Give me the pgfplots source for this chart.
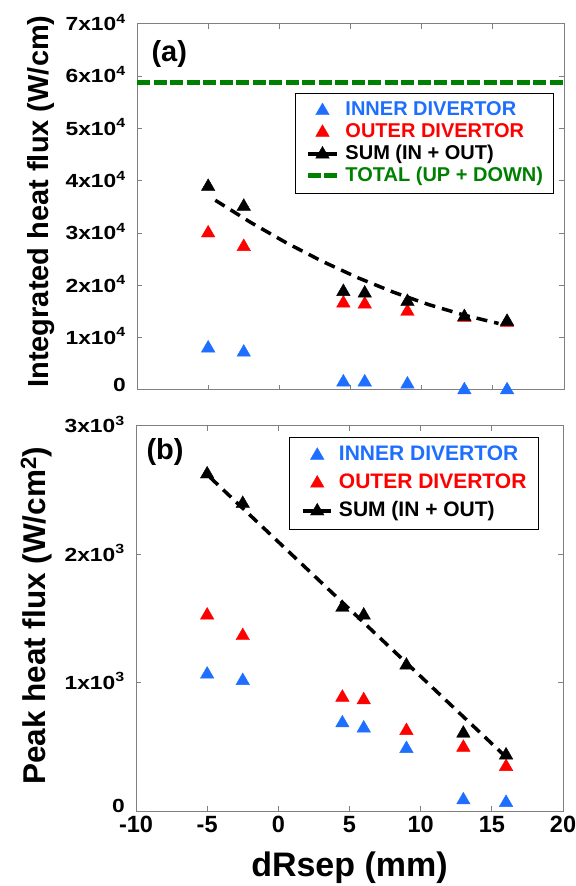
\documentclass[border=0pt]{standalone}
\usepackage{pgfplots}
\pgfplotsset{compat=1.18}
\usepackage{graphicx}
\usepackage{fontspec}
\setmainfont{Liberation Sans}
\definecolor{myblue}{RGB}{30,110,255}
\definecolor{mygreen}{RGB}{0,128,0}
\definecolor{axgray}{RGB}{128,128,128}
\newcommand\fs[1]{\fontsize{#1}{#1}\selectfont}
\newcommand\yl[1]{\scalebox{1.2}[1]{#1}}
\newcommand\yz{\raisebox{5bp}{\yl{0}}}
\pgfplotsset{
  common/.style={
    scale only axis, width=427bp, clip=false,
    xmin=-10, xmax=20, xtick={-10,-5,0,5,10,15,20},
    scaled y ticks=false,
    axis line style={axgray, line width=1bp},
    tick style={axgray, line width=1bp},
    major tick length=5bp, tick align=inside, tick pos=both,
    yticklabel style={anchor=base east, inner sep=0pt, xshift=-11bp, yshift=-6.7bp, font=\bfseries\fs{19bp}},
    ylabel style={anchor=base},
    legend cell align=left,
  },
  triB/.style={only marks, mark=triangle*, mark size=7.8bp, color=myblue, mark options={line width=0.4bp}},
  triR/.style={only marks, mark=triangle*, mark size=7.8bp, color=red, mark options={line width=0.4bp}},
  triK/.style={only marks, mark=triangle*, mark size=7.8bp, color=black, mark options={line width=0.4bp}},
  fitline/.style={black, line width=3.5bp, dash pattern=on 11bp off 7bp},
  sumleg/.style={black, line width=3.5bp, dash pattern=on 11bp off 7bp, mark=triangle*, mark size=7.8bp, mark options={solid, line width=0.4bp}},
}
\begin{document}
\begin{tikzpicture}
\path[use as bounding box] (0bp,0bp) rectangle (576bp,886bp);

% ---------------- (a) ----------------
\begin{axis}[common, at={(137bp,496bp)}, anchor=south west, height=366bp,
  ymin=0, ymax=70000, ytick={0,10000,20000,30000,40000,50000,60000,70000},
  yticklabels={\yz,\yl{1x10\textsuperscript{4}},\yl{2x10\textsuperscript{4}},\yl{3x10\textsuperscript{4}},\yl{4x10\textsuperscript{4}},\yl{5x10\textsuperscript{4}},\yl{6x10\textsuperscript{4}},\yl{7x10\textsuperscript{4}}},
  xticklabels={},
  ylabel={Integrated heat flux (W/cm)},
  ylabel style={at={(axis description cs:-0.2077,0.515)}, font=\bfseries\fs{29bp}},
  legend style={at={(0.370,0.8115)}, anchor=north west, fill=none, draw=black, line width=1bp,
    inner xsep=10bp, inner ysep=8bp, row sep=3bp, column sep=6bp,
    font=\bfseries\fs{20bp}, nodes={inner sep=0bp, text height=14.5bp, text depth=4.2bp}},
  legend image code/.code={\path (0bp,0bp) (29bp,0bp); \draw[mark repeat=2,mark phase=2,#1] plot coordinates {(0bp,0bp) (14.5bp,0bp) (29bp,0bp)};},
]
\addplot[triB] coordinates {(-5,8000) (-2.5,7200) (4.5,1500) (6,1500) (9,1100) (13,0) (16,0)};
\addlegendentry{\textcolor{myblue}{INNER DIVERTOR}}
\addplot[triR] coordinates {(-5,30000) (-2.5,27400) (4.5,16600) (6,16400) (9,15000) (13,13800) (16,12900)};
\addlegendentry{\textcolor{red}{OUTER DIVERTOR}}
\addplot[fitline, forget plot] coordinates {(-4.5,36289) (-2,32029) (0.5,28142) (3,24630) (5.5,21489) (8,18723) (10.5,16329) (13,14309) (15.4,12721)};
\addplot[triK, forget plot] coordinates {(-5,38900) (-2.5,35100) (4.5,18800) (6,18500) (9,16900) (13,14000) (16,13100)};
\addlegendimage{sumleg}
\addlegendentry{SUM (IN + OUT)}
\addplot[mygreen, line width=5bp, dash pattern=on 13bp off 3.5bp] coordinates {(-10,58900) (20,58900)};
\addlegendentry{\textcolor{mygreen}{TOTAL (UP + DOWN)}}
\node[anchor=base west, font=\bfseries\fs{29bp}, xshift=11bp, yshift=-37.5bp] at (axis description cs:0,1) {(a)};
\end{axis}

% ---------------- (b) ----------------
\begin{axis}[common, at={(136bp,75bp)}, anchor=south west, height=385bp,
  ymin=0, ymax=3000, ytick={0,1000,2000,3000},
  yticklabels={\yz,\yl{1x10\textsuperscript{3}},\yl{2x10\textsuperscript{3}},\yl{3x10\textsuperscript{3}}},
  xticklabels={-10,-5,0,5,10,15,20},
  xticklabel style={anchor=base, inner sep=0pt, yshift=-21.5bp, font=\bfseries\fs{23.5bp}},
  xlabel={dRsep (mm)},
  xlabel style={at={(axis description cs:0.5,0)}, anchor=base, yshift=-65bp, font=\bfseries\fs{34bp}},
  ylabel={Peak heat flux (W/cm\textsuperscript{2})},
  ylabel style={at={(axis description cs:-0.213,0.507)}, font=\bfseries\fs{31.5bp}},
  legend style={at={(0.3583,0.9714)}, anchor=north west, fill=none, draw=black, line width=1bp,
    inner xsep=12bp, inner ysep=8.2bp, row sep=8.2bp, column sep=6bp,
    font=\bfseries\fs{21bp}, nodes={inner sep=0bp, text height=15.2bp, text depth=4.4bp}},
  legend image code/.code={\path (0bp,0bp) (28bp,0bp); \draw[mark repeat=2,mark phase=2,#1] plot coordinates {(0bp,0bp) (14bp,0bp) (28bp,0bp)};},
]
\addplot[triB] coordinates {(-5,1065) (-2.5,1015) (4.5,685) (6,645) (9,485) (13,85) (16,65)};
\addlegendentry{\textcolor{myblue}{INNER DIVERTOR}}
\addplot[triR] coordinates {(-5,1525) (-2.5,1365) (4.5,885) (6,865) (9,625) (13,495) (16,345)};
\addlegendentry{\textcolor{red}{OUTER DIVERTOR}}
\addplot[fitline, forget plot] coordinates {(-4.8,2600) (16,420)};
\addplot[triK, forget plot] coordinates {(-5,2625) (-2.5,2395) (4.5,1585) (6,1525) (9,1135) (13,605) (16,435)};
\addlegendimage{sumleg}
\addlegendentry{SUM (IN + OUT)}
\node[anchor=base west, font=\bfseries\fs{29bp}, xshift=7bp, yshift=-33.5bp] at (axis description cs:0,1) {(b)};
\end{axis}
\end{tikzpicture}
\end{document}
